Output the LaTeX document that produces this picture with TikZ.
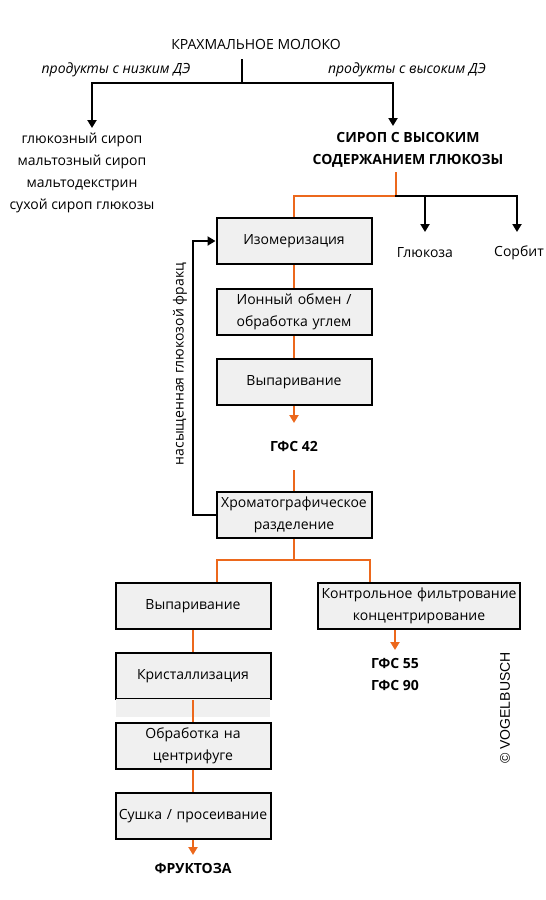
\documentclass[tikz,border=0pt]{standalone}
\usepackage{fontspec}
\setmainfont{Open Sans}
\newfontfamily\copyfont{Liberation Sans}
\usetikzlibrary{positioning,arrows.meta}
\definecolor{flow}{RGB}{236,104,28}
\definecolor{boxgray}{RGB}{240,240,240}

\begin{document}
\begin{tikzpicture}[x=1pt, y=-1pt, node distance=22pt, font=\fontsize{14}{22}\selectfont]
    \tikzstyle{stage} = [rectangle, draw, line width=2pt, fill=boxgray, minimum width=155pt, minimum height=46pt, text width=150pt, align=center, inner sep=1pt]
    \tikzstyle{plain} = [inner sep=0pt, align=center]
    \tikzstyle{product} = [plain, font=\fontsize{14}{22}\selectfont\bfseries]
    \tikzstyle{feed} = [draw, line width=2pt, line cap=rect]
    \tikzstyle{orangefeed} = [draw, line width=2pt, flow]
    \tikzstyle{tip} = [-{Triangle[width=9pt,length=8pt]}]

    \useasboundingbox (0,0) rectangle (546,900);

    % starch milk and the two product groups
    \node [plain] (milk) at (256,45) {КРАХМАЛЬНОЕ МОЛОКО};
    \node [plain, font=\fontsize{14}{22}\selectfont\itshape] (lowde) at (116,70) {продукты с низким ДЭ};
    \node [plain, font=\fontsize{14}{22}\selectfont\itshape] (highde) at (407,70) {продукты с высоким ДЭ};
    \node [plain] (lowlist) at (82,173) {глюкозный сироп\\мальтозный сироп\\мальтодекстрин\\сухой сироп глюкозы};
    \node [product] (hfcs) at (408,150) {СИРОП С ВЫСОКИМ\\СОДЕРЖАНИЕМ ГЛЮКОЗЫ};
    \coordinate (split) at (242,83);
    \coordinate (lowin) at (92,128);
    \coordinate (highin) at (393,126);

    \path [feed] (split |- 0,60) -- (split);
    \path [feed, tip] (split) -| (lowin);
    \path [feed, tip] (split) -| (highin);

    % glucose syrup branches
    \node [plain] (glucose) at (425,253) {Глюкоза};
    \node [plain] (sorbit) at (519,253) {Сорбит};
    \coordinate (hfcsout) at (396,172);
    \coordinate (branch) at (396,196);
    \coordinate (glucosein) at (425,232);
    \coordinate (sorbitin) at (517,232);

    \node [stage] (iso) at (294,241) {Изомеризация};
    \node [stage, below=23pt of iso] (ion) {Ионный обмен /\\обработка углем};
    \node [stage, below=of ion] (evap) {Выпаривание};
    \node [product] (hfcs42) at (294,446) {ГФС 42};
    \coordinate (hfcs42in) at (294,423);
    \coordinate (hfcs42out) at (294,470);
    \node [stage] (chrom) at (294,515) {Хроматографическое\\разделение};

    \path [orangefeed] (hfcsout) -- (branch) -| (iso.north);
    \path [feed] (branch) -- (sorbitin |- branch);
    \path [feed, tip] (glucosein |- branch) -- (glucosein);
    \path [feed, tip] (sorbitin |- branch) -- (sorbitin);
    \path [orangefeed] (iso) -- (ion);
    \path [orangefeed] (ion) -- (evap);
    \path [orangefeed, tip] (evap.south) -- (hfcs42in);
    \path [orangefeed] (hfcs42out) -- (chrom.north);

    % recycle of the glucose fraction
    \path [feed, tip] (chrom.west) -- ++(-23,0) |- (iso.west);
    \node [plain, rotate=90] (recycle) at (180,364) {насыщенная глюкозой фракц};

    % fructose line
    \node [stage] (evap2) at (193,606) {Выпаривание};
    \node [stage, below=of evap2] (cryst) {Кристаллизация};
    \fill [boxgray] (116,699) rectangle (270,717);
    \node [stage, below=of cryst] (centr) {Обработка на\\центрифуге};
    \node [stage, below=of centr] (dry) {Сушка / просеивание};
    \node [product] (fructose) at (193,868) {ФРУКТОЗА};
    \coordinate (fructosein) at (193,855);

    % HFCS 55 / 90 line
    \node [stage, minimum width=200pt, text width=200pt] (filt) at (419,606) {Контрольное фильтрование\\концентрирование};
    \node [product] (hfcs5590) at (395,674) {ГФС 55\\ГФС 90};
    \coordinate (hfcs5590in) at (395,650);
    \coordinate (chromsplit) at (294,560);
    \coordinate (leftdrop) at (217,560);
    \coordinate (rightdrop) at (370,560);

    \path [orangefeed] (chrom.south) -- (chromsplit);
    \path [orangefeed] (leftdrop |- evap2.north) |- (rightdrop) -- (rightdrop |- filt.north);
    \path [orangefeed] (evap2) -- (cryst);
    \path [orangefeed] (cryst) -- (centr);
    \path [orangefeed] (centr) -- (dry);
    \path [orangefeed, tip] (dry.south) -- (fructosein);
    \path [orangefeed, tip] (filt.south -| hfcs5590in) -- (hfcs5590in);

    \node [plain, rotate=90, font=\copyfont\fontsize{14}{16}\selectfont] (copy) at (505,708) {© VOGELBUSCH};
\end{tikzpicture}
\end{document}
